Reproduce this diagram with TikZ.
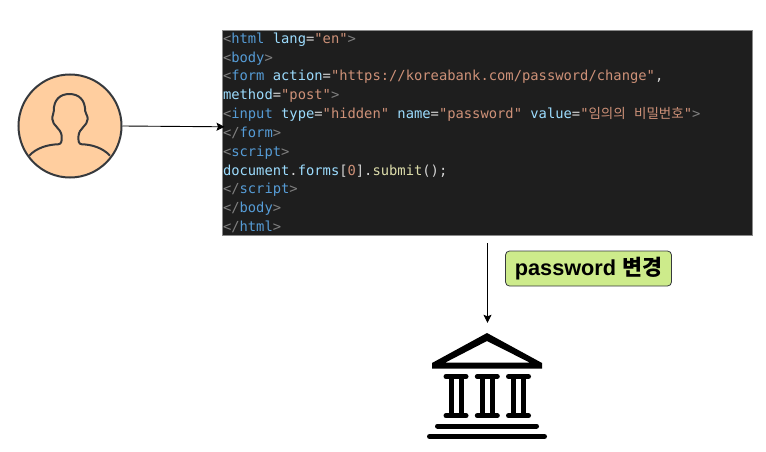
\documentclass[tikz,border=0pt]{standalone}
\usepackage{fontspec}
\usetikzlibrary{arrows.meta}
\newfontfamily\codefont{DejaVu Sans Mono}
\newfontfamily\krfont{Noto Sans CJK KR}
\newfontfamily\krbold{Noto Sans CJK KR Bold}
\setmainfont{Liberation Sans}
\definecolor{codebg}{HTML}{1E1E1E}
\definecolor{codeframe}{HTML}{8A8A8A}
\definecolor{cgray}{HTML}{808080}
\definecolor{ctag}{HTML}{569CD6}
\definecolor{cattr}{HTML}{9CDCFE}
\definecolor{cstr}{HTML}{CE9178}
\definecolor{cplain}{HTML}{D4D4D4}
\definecolor{cfunc}{HTML}{DCDCAA}
\definecolor{skin}{HTML}{FFCE9F}
\definecolor{inkdark}{HTML}{36393D}
\definecolor{lime}{HTML}{CDEB8B}
\newcommand{\cg}[1]{\textcolor{cgray}{#1}}
\newcommand{\ct}[1]{\textcolor{ctag}{#1}}
\newcommand{\ca}[1]{\textcolor{cattr}{#1}}
\newcommand{\cs}[1]{\textcolor{cstr}{#1}}
\newcommand{\cp}[1]{\textcolor{cplain}{#1}}
\newcommand{\cf}[1]{\textcolor{cfunc}{#1}}
\tikzset{
  codeline/.style={anchor=base west,inner sep=0pt,outer sep=0pt,font=\codefont\fontsize{13.8}{16}\selectfont,text=cplain},
  arrowline/.style={draw=black,line width=0.9pt,-{Stealth[length=8pt,width=8pt,inset=1.5pt]}},
  bankline/.style={draw=black,line width=5pt,line cap=round},
  shaft/.style={draw=black,line width=5pt}
}
\begin{document}
\begin{tikzpicture}[x=1pt,y=-1pt]
\useasboundingbox (0,0) rectangle (766,452);
% person
\node[circle,draw=inkdark,fill=skin,line width=2pt,minimum size=103pt,inner sep=0pt] (person) at (70,126) {};
\draw[inkdark,line width=2pt,line join=round]
  (29.3,155.7) .. controls (36,148) and (48,144.5) .. (58,144.3)
  .. controls (61.5,144.2) and (62,141) .. (61.7,136)
  .. controls (61,128) and (52.5,126) .. (52.3,119)
  .. controls (52.2,115) and (53.8,114) .. (53.8,111)
  .. controls (53.5,100) and (60,94) .. (69.3,94)
  .. controls (79,94) and (85.2,100) .. (85.2,111)
  .. controls (85.2,114) and (87.8,115) .. (87.7,119)
  .. controls (87.5,126) and (79,128) .. (78.5,136)
  .. controls (78.2,141) and (78.5,144.2) .. (82,144.3)
  .. controls (92,144.5) and (103,148) .. (110,155.7);
% code panel
\node[rectangle,draw=codeframe,fill=codebg,line width=0.8pt,minimum width=530pt,minimum height=205pt,inner sep=0pt] (code) at (487.5,133) {};
\node[codeline] (l1) at (223,43.5) {\cg{<}\ct{html} \ca{lang}=\cs{"en"}\cg{>}};
\node[codeline] (l2) at (223,62.2) {\cg{<}\ct{body}\cg{>}};
\node[codeline] (l3) at (223,81) {\cg{<}\ct{form} \ca{action}=\cs{"https://koreabank.com/password/change"},};
\node[codeline] (l4) at (223,99.7) {\ca{method}=\cs{"post"}\cg{>}};
\node[codeline] (l5) at (223,118.5) {\cg{<}\ct{input} \ca{type}=\cs{"hidden"} \ca{name}=\cs{"password"} \ca{value}=\cs{"{\krfont\fontsize{13.5}{16}\selectfont 임의의}\ {\krfont\fontsize{13.5}{16}\selectfont 비밀번호}"}\cg{>}};
\node[codeline] (l6) at (223,137.2) {\cg{</}\ct{form}\cg{>}};
\node[codeline] (l7) at (223,156) {\cg{<}\ct{script}\cg{>}};
\node[codeline] (l8) at (223,175) {\ca{document}.\ca{forms}[\cs{0}].\cf{submit}();};
\node[codeline] (l9) at (223,193.5) {\cg{</}\ct{script}\cg{>}};
\node[codeline] (l10) at (223,212.2) {\cg{</}\ct{body}\cg{>}};
\node[codeline] (l11) at (223,231) {\cg{</}\ct{html}\cg{>}};
% label
\node[rectangle,rounded corners=4pt,draw=inkdark,fill=lime,line width=0.8pt,minimum width=166pt,minimum height=35pt,inner sep=0pt,font=\bfseries\fontsize{21.7}{24}\selectfont] (label) at (588.5,268.5) {\raisebox{0.8pt}{password {\krbold 변경}}};
% bank icon
\node[rectangle,minimum width=124pt,minimum height=116pt,inner sep=0pt] (bank) at (487.5,381) {};
\fill[black,even odd rule]
  (487,333) -- (542,363) -- (542,368.5) -- (432,368.5) -- (432,363) -- cycle
  (487,341) -- (445,362.7) -- (530,362.7) -- cycle;
\foreach \cx in {456,487.3,518.5}{
  \draw[bankline] (\cx-10,376.5) -- (\cx+10,376.5);
  \draw[bankline] (\cx-10,415.7) -- (\cx+10,415.7);
  \draw[shaft] (\cx-5,376.5) -- (\cx-5,415.7);
  \draw[shaft] (\cx+5,376.5) -- (\cx+5,415.7);
}
\draw[bankline] (437.5,426) -- (536.5,426);
\draw[bankline] (429.5,436.5) -- (544.5,436.5);
% connectors
\coordinate (codein) at (224.5,126.8);
\coordinate (dropstart) at (487.5,243);
\draw[arrowline] (person.east) -- (codein);
\draw[arrowline] (dropstart) -- (bank.north);
\end{tikzpicture}
\end{document}
